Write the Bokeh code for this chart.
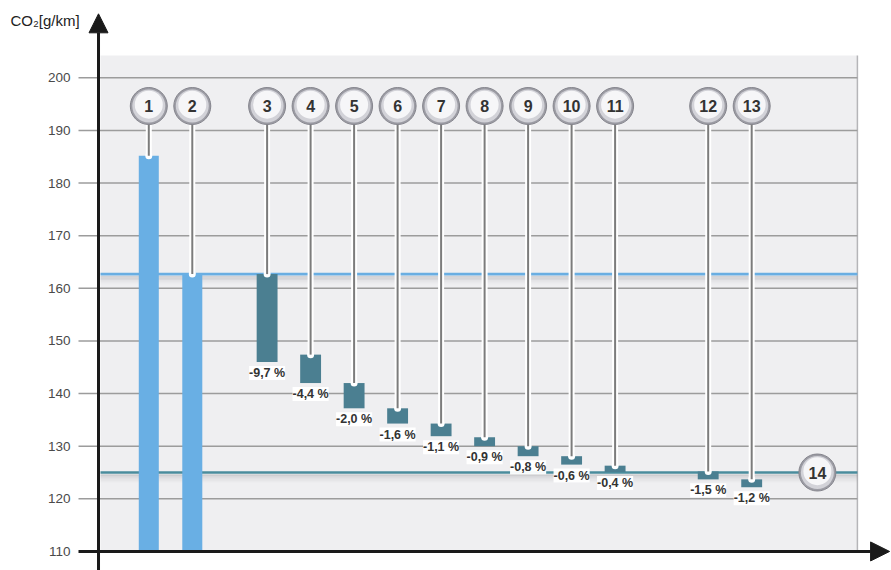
from bokeh.plotting import figure
from bokeh.models import ColumnDataSource, Range1d, LabelSet, Arrow, NormalHead
from bokeh.core.properties import value
from bokeh.embed import file_html
from bokeh.resources import INLINE

# ---------------- data ----------------
y_ticks = [110, 120, 130, 140, 150, 160, 170, 180, 190, 200]
y_title = "CO₂[g/km]"

base_ids = ["1", "2"]
base_values = [185.2, 162.7]

step_ids = ["3", "4", "5", "6", "7", "8", "9", "10", "11", "12", "13"]
step_start = [162.7, 147.4, 142.0, 137.2, 134.3, 131.7, 130.0, 128.1, 126.3, 125.2, 123.7]
step_end = [146.0, 142.0, 137.2, 134.3, 131.9, 130.0, 128.1, 126.5, 125.1, 123.7, 122.2]
step_pct = ["-9,7 %", "-4,4 %", "-2,0 %", "-1,6 %", "-1,1 %", "-0,9 %",
            "-0,8 %", "-0,6 %", "-0,4 %", "-1,5 %", "-1,2 %"]

target_id = "14"
level_before = 162.7
level_after = 125.0

# ---------------- layout (slot positions along x) ----------------
base_slots = [0.0, 1.0]
step_slots = [2.72, 3.72, 4.72, 5.72, 6.72, 7.72, 8.72, 9.72, 10.72, 12.86, 13.86]
target_slot = 15.37
badge_y = 194.64
PXY = 5.263          # px per y unit
bg_left, bg_right, bg_top = -1.11, 16.29, 204.24
axis_x = -1.156
grid_left = -1.616
tick_label_x = -1.80
title_x, title_y = -3.18, 210.9
y_lo, y_hi = 106.38, 214.69

FONT = value("Liberation Sans")

p = figure(width=891, height=570, output_backend="svg", toolbar_location=None,
           x_axis_location=None, y_axis_location=None,
           x_range=Range1d(-3.409, 17.074), y_range=Range1d(y_lo, y_hi),
           min_border_left=0, min_border_right=0, min_border_top=0, min_border_bottom=0)
p.grid.visible = False
p.outline_line_color = None
p.background_fill_color = "white"
p.border_fill_color = "white"

# plot background panel
p.quad(left=[bg_left], right=[bg_right], bottom=[110], top=[bg_top],
       fill_color="#efeff1", line_color=None)
p.segment(x0=[bg_right], y0=[110], x1=[bg_right], y1=[bg_top], line_color="#b5b5b8", line_width=1.5)

# gridlines (incl. tick stubs) and tick labels
grid_vals = [t for t in y_ticks if t > 110]
p.segment(x0=[grid_left] * len(grid_vals), y0=grid_vals, x1=[bg_right] * len(grid_vals), y1=grid_vals,
          line_color="#9c9c9c", line_width=1.5)
p.text(x=[tick_label_x] * len(y_ticks), y=y_ticks, text=[str(t) for t in y_ticks],
       text_align="right", text_baseline="middle", text_font=FONT,
       text_font_size="13.5px", text_color="#4a4a4a")

# reference levels with soft shadow
for lvl, col in [(level_before, "#6aaee2"), (level_after, "#4a8c9c")]:
    for k, a in enumerate([0.22, 0.18, 0.14, 0.10, 0.07, 0.04, 0.02]):
        yy = lvl - (2.5 + 1.2 * k) / PXY
        p.segment(x0=[bg_left], y0=[yy], x1=[bg_right], y1=[yy], line_color="#6c6c74",
                  line_alpha=a, line_width=1.3)
    p.segment(x0=[bg_left], y0=[lvl], x1=[bg_right], y1=[lvl], line_color=col, line_width=2.6)

# bars
base_src = ColumnDataSource(dict(x=base_slots, top=base_values, id=base_ids))
p.vbar(x="x", top="top", bottom=110, width=0.46, source=base_src, fill_color="#69afe4", line_color=None)

step_src = ColumnDataSource(dict(x=step_slots, top=step_start, bottom=step_end, pct=step_pct, id=step_ids))
p.vbar(x="x", top="top", bottom="bottom", width=0.48, source=step_src, fill_color="#4b7f91", line_color=None)

# connectors
all_slots = base_slots + step_slots
all_tops = base_values + step_start
n = len(all_slots)
p.segment(x0=all_slots, y0=[badge_y] * n, x1=all_slots, y1=all_tops, line_color="white", line_width=6)
p.scatter(x=all_slots, y=all_tops, size=7, fill_color="white", line_color=None)
p.segment(x0=all_slots, y0=[badge_y] * n, x1=all_slots, y1=all_tops, line_color="#7c7c7c", line_width=2)

# badges
badge_x = all_slots + [target_slot]
badge_yy = [badge_y] * n + [level_after]
badge_txt = base_ids + step_ids + [target_id]
bsrc = ColumnDataSource(dict(x=badge_x, y=badge_yy, t=badge_txt,
                             y2=[v + 0.25 for v in badge_yy]))
p.scatter(x="x", y="y", size=37, source=bsrc, fill_color="#9c9ca4", line_color="#85858d", line_width=1)
p.scatter(x="x", y="y", size=33, source=bsrc, fill_color="#d2d2d8", line_color=None)
p.scatter(x="x", y="y2", size=28, source=bsrc, fill_color="#f6f6f8", line_color=None)
p.text(x="x", y="y", text="t", source=bsrc, text_align="center", text_baseline="middle",
       text_font=FONT, text_font_style="bold", text_font_size="16px", text_color="#333333")

# percentage labels
labels = LabelSet(x="x", y="bottom", text="pct", source=step_src, y_offset=-4,
                  text_align="center", text_baseline="top", text_font=FONT,
                  text_font_style="bold", text_font_size="12.5px", text_color="#333333",
                  background_fill_color="white", background_fill_alpha=0.95)
p.add_layout(labels)

# axes with arrows
p.add_layout(Arrow(end=NormalHead(size=19, fill_color="#1a1a1a", line_color="#1a1a1a"),
                   x_start=axis_x, y_start=y_lo, x_end=axis_x, y_end=212.16,
                   line_color="#1a1a1a", line_width=3))
p.add_layout(Arrow(end=NormalHead(size=19, fill_color="#1a1a1a", line_color="#1a1a1a"),
                   x_start=grid_left, y_start=110, x_end=17.03, y_end=110,
                   line_color="#1a1a1a", line_width=3))

# y title
p.text(x=[title_x], y=[title_y], text=[y_title], text_font=FONT, text_font_size="15px",
       text_color="#222222", text_baseline="middle", text_align="left")

open("out.html", "w").write(file_html(p, INLINE))
